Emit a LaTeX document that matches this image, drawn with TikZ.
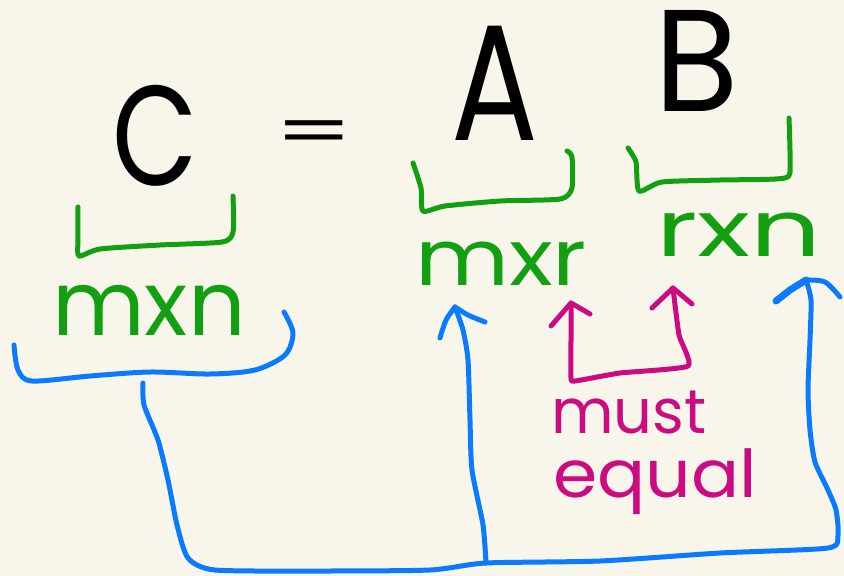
\documentclass[tikz,border=0pt]{standalone}
\usepackage{fontspec}
\setmainfont{Poppins}
\definecolor{bg}{HTML}{F8F6EA}
\definecolor{pgreen}{HTML}{12A012}
\definecolor{pblue}{HTML}{0A7BFF}
\definecolor{pmag}{HTML}{CC0A82}
\tikzset{
  pen/.style={line width=5pt, line cap=round, line join=round},
  gpen/.style={pen, draw=pgreen},
  bpen/.style={pen, draw=pblue},
  mpen/.style={pen, draw=pmag},
  big/.style={inner sep=0pt, anchor=base, text=black},
  gtxt/.style={inner sep=0pt, anchor=base, text=pgreen},
  mtxt/.style={inner sep=0pt, anchor=base west, text=pmag},
}
\begin{document}
\begin{tikzpicture}[x=1pt,y=-1pt]
\fill[bg] (0,0) rectangle (844,576);
\useasboundingbox (0,0) rectangle (844,576);

% black equation
\node[big, font=\fontsize{142}{142}\selectfont, xscale=0.78] (C) at (155,185) {C};
\node[big, font=\fontsize{110}{110}\selectfont, yscale=0.6] (eq) at (314,154) {=};
\node[big, font=\fontsize{165}{165}\selectfont, xscale=0.78] (A) at (495,140) {A};
\node[big, font=\fontsize{145}{145}\selectfont, xscale=0.95] (B) at (697,111) {B};

% green brackets
\draw[gpen] plot[smooth, tension=0.4] coordinates {(78,207) (78,240) (79,256) (100,249) (160,245) (222,242) (233,232) (233,196)};
\draw[gpen] plot[smooth, tension=0.4] coordinates {(413,163) (421,188) (423,211) (445,206) (500,201) (560,199) (572,188) (572,157) (567,151)};
\draw[gpen] plot[smooth, tension=0.4] coordinates {(628,148) (636,162) (639,191) (662,182) (720,180) (785,178) (790,162) (789,118)};

% green dimension labels
\node[gtxt, font=\fontsize{90}{90}\selectfont] (mn) at (149,335) {mxn};
\node[gtxt, font=\fontsize{78}{78}\selectfont, xscale=1.17] (mr) at (501,285) {mxr};
\node[gtxt, font=\fontsize{78}{78}\selectfont, xscale=1.42] (rn) at (739,256) {rxn};

% blue bracket under C's size
\draw[bpen] plot[smooth, tension=0.5] coordinates {(14,345) (18,370) (32,381) (90,376) (150,372) (210,374) (255,370) (285,355) (293,333) (284,312)};

% blue connector: stem, bottom run, up to B's n
\coordinate (stem) at (143,383);
\coordinate (join) at (486,563);
\coordinate (tipA) at (455,307);
\coordinate (tipB) at (806,280);
\draw[bpen] plot[smooth, tension=0.4] coordinates {(stem) (144,405) (158,440) (168,480) (177,525) (188,558) (215,570) (320,571) (430,570) (join) (600,561) (720,553) (828,548) (838,535) (836,510) (828,490) (815,462) (810,430) (808,390) (810,340) (811,300) (tipB)};
\draw[bpen] plot[smooth, tension=0.4] coordinates {(join) (483,525) (472,470) (470,420) (468,360) (463,330) (tipA)};
% blue arrowheads
\draw[bpen] plot[smooth, tension=0.5] coordinates {(440,338) (446,320) (tipA)};
\draw[bpen] plot[smooth, tension=0.5] coordinates {(tipA) (468,315) (485,322)};
\draw[bpen, line width=7pt] (776,301) -- (790,290) -- (tipB);
\draw[bpen] plot[smooth, tension=0.5] coordinates {(tipB) (825,282) (840,297)};

% magenta "must equal" bracket with arrows
\coordinate (tipL) at (571,303);
\coordinate (tipR) at (673,288);
\draw[mpen] plot[smooth, tension=0.3] coordinates {(tipL) (571,340) (571,378) (575,381) (620,373) (688,366) (679,335) (tipR)};
\draw[mpen] (551,326) -- (tipL) -- (590,314);
\draw[mpen] (652,308) -- (tipR) -- (692,304);
\node[mtxt, font=\fontsize{62}{62}\selectfont, xscale=0.98] (must) at (551,433) {must};
\node[mtxt, font=\fontsize{66}{66}\selectfont, xscale=1.08] (equal) at (553,497) {equal};
\end{tikzpicture}
\end{document}
